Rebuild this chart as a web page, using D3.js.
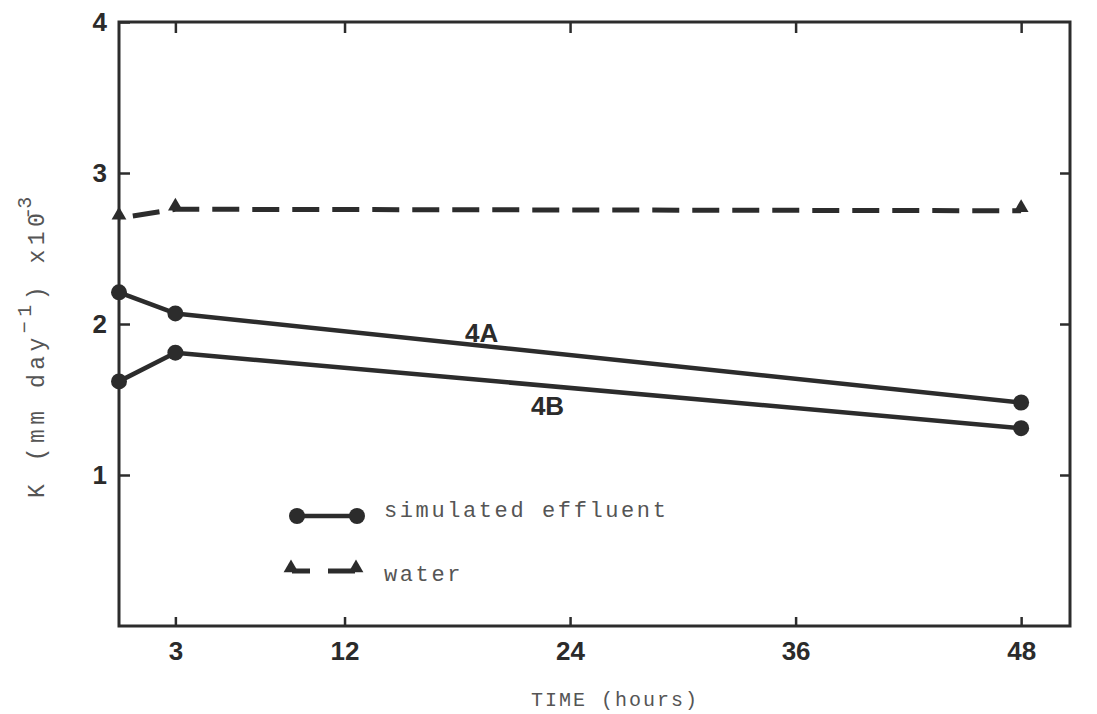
<!DOCTYPE html>
<html>
<head>
<meta charset="utf-8">
<script src="https://cdn.jsdelivr.net/npm/d3@7/dist/d3.min.js"></script>
<style>
  html, body { margin: 0; padding: 0; background: #ffffff; }
  svg { display: block; }
  .tick-label { font-family: "Liberation Sans Narrow", "Liberation Sans", Arial, sans-serif; font-weight: bold; font-size: 26px; fill: #2b2b2b; }
  .typed { font-family: "Liberation Mono", "DejaVu Sans Mono", monospace; font-size: 20px; fill: #555; letter-spacing: 2px; }
  .typed-legend { font-family: "Liberation Mono", "DejaVu Sans Mono", monospace; font-size: 22px; fill: #555; letter-spacing: 2.6px; }
  .typed-y { font-family: "Liberation Mono", "DejaVu Sans Mono", monospace; font-size: 23px; fill: #555; letter-spacing: 4.5px; }
  .series-label { font-family: "Liberation Sans", Arial, sans-serif; font-weight: bold; font-size: 26px; fill: #2b2b2b; }
</style>
</head>
<body>
<svg id="chart" width="1097" height="714"></svg>
<script>
// Sampling times (hours)
const hours = [0, 3, 48];
// Hydraulic conductivity K (mm day^-1) x10^-3
const effluent4A = [2.21, 2.07, 1.48];
const effluent4B = [1.62, 1.81, 1.31];
const water = [2.70, 2.76, 2.75];
// Axis ticks
const xTicks = [3, 12, 24, 36, 48];
const yTicks = [1, 2, 3, 4];
// Curve labels
const curveLabels = ["4A", "4B"];
const curveLabelHours = [19.3, 22.8];
const curveLabelK = [1.94, 1.46];
// Legend entries
const legendNames = ["simulated effluent", "water"];

const ink = "#2c2c2c";
const svg = d3.select("#chart");

const x = d3.scaleLinear().domain([0, 50.6]).range([119, 1070]);
const y = d3.scaleLinear().domain([0, 4]).range([626, 22]);

// Frame
svg.append("rect")
  .attr("x", x(0)).attr("y", y(4))
  .attr("width", x(50.6) - x(0)).attr("height", y(0) - y(4))
  .attr("fill", "none").attr("stroke", ink).attr("stroke-width", 3);

function styleTicks(sel) {
  sel.select(".domain").remove();
  sel.selectAll(".tick line").attr("stroke", ink).attr("stroke-width", 2.5);
}

// Bottom axis ticks (pointing inward) and labels
const axisB = d3.axisBottom(x).tickValues(xTicks).tickSize(-9).tickPadding(16).tickFormat(d3.format("d"));
const gB = svg.append("g").attr("transform", `translate(0,${y(0)})`).call(axisB);
styleTicks(gB);
gB.selectAll(".tick text").attr("class", "tick-label");

// Top axis ticks (no labels)
const axisT = d3.axisTop(x).tickValues(xTicks).tickSize(-11).tickFormat("");
const gT = svg.append("g").attr("transform", `translate(0,${y(4)})`).call(axisT);
styleTicks(gT);

// Left axis ticks and labels
const axisL = d3.axisLeft(y).tickValues(yTicks).tickSize(-11).tickPadding(12).tickFormat(d3.format("d"));
const gL = svg.append("g").attr("transform", `translate(${x(0)},0)`).call(axisL);
styleTicks(gL);
gL.selectAll(".tick text").attr("class", "tick-label");

// Right axis ticks (no labels)
const axisR = d3.axisRight(y).tickValues(yTicks.slice(0, 3)).tickSize(-10).tickFormat("");
const gR = svg.append("g").attr("transform", `translate(${x(50.6)},0)`).call(axisR);
styleTicks(gR);

// Series
const line = d3.line().x(d => x(d[0])).y(d => y(d[1]));
const pairs = vals => hours.map((h, i) => [h, vals[i]]);

[effluent4A, effluent4B].forEach(vals => {
  svg.append("path").datum(pairs(vals))
    .attr("d", line).attr("fill", "none")
    .attr("stroke", ink).attr("stroke-width", 4.5).attr("stroke-linejoin", "round");
  svg.append("g").selectAll("circle").data(pairs(vals)).join("circle")
    .attr("cx", d => x(d[0])).attr("cy", d => y(d[1])).attr("r", 8).attr("fill", ink);
});

svg.append("path").datum(pairs(water))
  .attr("d", line).attr("fill", "none")
  .attr("stroke", ink).attr("stroke-width", 5)
  .attr("stroke-dasharray", "27 13").attr("stroke-dashoffset", -14);

const tri = d3.symbol().type(d3.symbolTriangle).size(95);
svg.append("g").selectAll("path").data(pairs(water)).join("path")
  .attr("d", tri)
  .attr("transform", d => `translate(${x(d[0])},${y(d[1]) - 3})`)
  .attr("fill", ink);

// Curve labels
svg.append("g").selectAll("text").data(curveLabels).join("text")
  .attr("class", "series-label")
  .attr("x", (d, i) => x(curveLabelHours[i]))
  .attr("y", (d, i) => y(curveLabelK[i]))
  .attr("text-anchor", "middle").attr("dominant-baseline", "central")
  .text(d => d);

// Legend
const leg = svg.append("g");
leg.append("line").attr("x1", 297).attr("x2", 357).attr("y1", 516).attr("y2", 516)
  .attr("stroke", ink).attr("stroke-width", 4.5);
[297, 357].forEach(cx => leg.append("circle").attr("cx", cx).attr("cy", 516).attr("r", 8).attr("fill", ink));
leg.append("line").attr("x1", 292).attr("x2", 310).attr("y1", 571).attr("y2", 571)
  .attr("stroke", ink).attr("stroke-width", 5);
leg.append("line").attr("x1", 328).attr("x2", 355).attr("y1", 571).attr("y2", 571)
  .attr("stroke", ink).attr("stroke-width", 5);
[291, 356].forEach(cx => leg.append("path").attr("d", tri).attr("transform", `translate(${cx},568)`).attr("fill", ink));
leg.selectAll("text.typed-legend").data(legendNames).join("text")
  .attr("class", "typed-legend")
  .attr("x", 384)
  .attr("y", (d, i) => [517, 581][i])
  .text(d => d);

// Axis titles
svg.append("text").attr("class", "typed")
  .attr("x", 615).attr("y", 706).attr("text-anchor", "middle")
  .text("TIME (hours)");

const yt = svg.append("text").attr("class", "typed-y")
  .attr("transform", "translate(44,345) rotate(-90)")
  .attr("text-anchor", "middle");
yt.append("tspan").text("K (mm day");
yt.append("tspan").attr("dy", -13).attr("font-size", 20).text("\u22121");
yt.append("tspan").attr("dy", 13).text(") x1");
yt.append("tspan").text("0\u0304");
yt.append("tspan").attr("dy", -13).attr("font-size", 20).text("3");
</script>
</body>
</html>
